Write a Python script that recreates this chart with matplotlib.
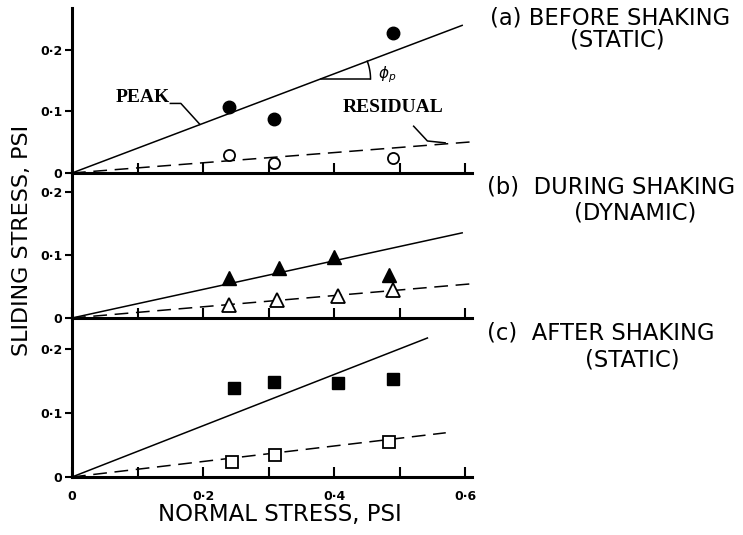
import numpy as np
import matplotlib
matplotlib.use("Agg")
import matplotlib.pyplot as plt

# normal stress (psi) of the test points, per panel
x_before = [0.24, 0.308, 0.49]
peak_before = [0.108, 0.088, 0.228]
resid_before = [0.030, 0.016, 0.024]

x_during = [0.24, 0.316, 0.40, 0.483]
peak_during = [0.063, 0.079, 0.097, 0.068]
x_during_res = [0.24, 0.312, 0.405, 0.49]
resid_during = [0.020, 0.028, 0.035, 0.044]

x_after = [0.247, 0.308, 0.406, 0.49]
peak_after = [0.139, 0.148, 0.146, 0.153]
x_after_res = [0.244, 0.31, 0.484]
resid_after = [0.024, 0.035, 0.055]

# fitted lines through origin: slope, last x
peak_fit = [(0.403, 0.595), (0.227, 0.595), (0.40, 0.542)]
resid_fit = [(0.083, 0.607), (0.089, 0.607), (0.121, 0.57)]

y_ticks = [0, 0.1, 0.2]
y_ticklabels = ["0", "0·1", "0·2"]
x_ticklabels = ["0", "", "0·2", "", "0·4", "", "0·6"]

panel_titles = [("(a) BEFORE SHAKING", "(STATIC)"),
                ("(b)  DURING SHAKING", "(DYNAMIC)"),
                ("(c)  AFTER SHAKING", "(STATIC)")]

W, H = 743, 535
fig = plt.figure(figsize=(W / 100, H / 100), dpi=100)
fig.patch.set_facecolor("white")

left = 72 / W
width = 400 / W
# (y of zero line in px, top px, ymax)
boxes = [(173, 8, 0.268), (318, 173, 0.23), (477, 318, 0.248)]
axes = []
for zero_px, top_px, ymax in boxes:
    ax = fig.add_axes([left, 1 - zero_px / H, width, (zero_px - top_px) / H])
    ax.set_xlim(0, 0.61)
    ax.set_ylim(0, ymax)
    for s in ["top", "right"]:
        ax.spines[s].set_visible(False)
    ax.spines["left"].set_linewidth(2.2)
    ax.spines["bottom"].set_linewidth(2.2)
    ax.set_yticks(y_ticks)
    ax.set_yticklabels(y_ticklabels, fontsize=9, fontweight="bold")
    ax.set_xticks(np.arange(0, 0.61, 0.1))
    ax.tick_params(axis="y", direction="out", length=5, width=1.5, pad=2)
    ax.tick_params(axis="x", direction="in", length=7, width=1.5)
    ax.set_xticklabels([])
    ax.patch.set_alpha(0)
    axes.append(ax)

# bottom panel gets the x labels
axes[2].set_xticklabels(x_ticklabels, fontsize=9, fontweight="bold")
axes[2].tick_params(axis="x", pad=9)

data = [
    (x_before, peak_before, x_before, resid_before, "o"),
    (x_during, peak_during, x_during_res, resid_during, "^"),
    (x_after, peak_after, x_after_res, resid_after, "s"),
]
sizes = {"o": (9, 8), "^": (10, 9.5), "s": (8.5, 9)}

for i, ax in enumerate(axes):
    xp, yp, xr, yr, m = data[i]
    k, xe = peak_fit[i]
    ax.plot([0, xe], [0, k * xe], color="black", lw=1.1, clip_on=False)
    k, xe = resid_fit[i]
    ax.plot([0, xe], [0, k * xe], color="black", lw=1.1, dashes=(9, 5), clip_on=False)
    ax.plot(xp, yp, m, color="black", ms=sizes[m][0], clip_on=False, zorder=5)
    ax.plot(xr, yr, m, mfc="white", mec="black", mew=1.3, ms=sizes[m][1], clip_on=False, zorder=5)

# annotations on panel (a)
ax = axes[0]
ax.text(0.066, 0.122, "PEAK", fontsize=14, fontweight="bold", family="Liberation Serif",
        ha="left", va="center")
ax.plot([0.150, 0.166, 0.195], [0.113, 0.113, 0.079], color="black", lw=1.1)
ax.text(0.412, 0.106, "RESIDUAL", fontsize=14, fontweight="bold", family="Liberation Serif",
        ha="left", va="center")
ax.plot([0.521, 0.542, 0.569], [0.076, 0.052, 0.049], color="black", lw=1.1)

# angle marker
x0 = 0.379
y0 = peak_fit[0][0] * x0
ax.plot([x0, 0.455], [y0, y0], color="black", lw=1.1)
p0 = ax.transData.transform((x0, y0))
d = ax.transData.transform((1, peak_fit[0][0])) - ax.transData.transform((0, 0))
ang = np.arctan2(d[1], d[0])
t = np.linspace(0, ang, 20)
pts = np.column_stack([p0[0] + 50 * np.cos(t), p0[1] + 50 * np.sin(t)])
arc = ax.transData.inverted().transform(pts)
ax.plot(arc[:, 0], arc[:, 1], color="black", lw=1.1)
ax.text(0.466, 0.160, r"$\phi_p$", fontsize=11, ha="left", va="center")

# panel titles on the right
title_pos = [(490, 18, 617, 40), (487, 187, 635, 213), (487, 333, 632, 360)]
for (l1, l2), (xa, ya, xb, yb) in zip(panel_titles, title_pos):
    fig.text(xa / W, 1 - ya / H, l1, fontsize=16.3, family="DejaVu Sans",
             ha="left", va="center")
    fig.text(xb / W, 1 - yb / H, l2, fontsize=16.3, family="DejaVu Sans",
             ha="center", va="center")

fig.text(22 / W, 1 - 240 / H, "SLIDING STRESS, PSI", rotation=90, fontsize=16,
         family="DejaVu Sans", ha="center", va="center")
fig.text(280 / W, 1 - 514 / H, "NORMAL STRESS, PSI", fontsize=16.5,
         family="DejaVu Sans", ha="center", va="center")

fig.savefig("out.png", dpi=100, facecolor="white")
